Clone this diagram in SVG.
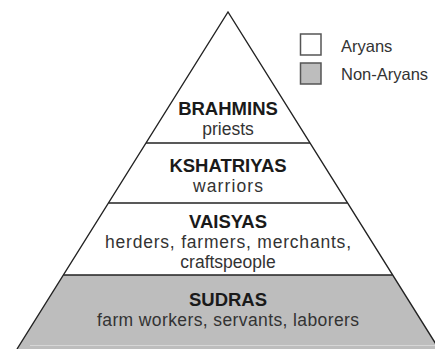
<svg xmlns="http://www.w3.org/2000/svg" width="435" height="349" viewBox="0 0 435 349">
<style>
.edge{fill:none;stroke:#222;stroke-width:1.4;stroke-linejoin:miter}
.div{stroke:#222;stroke-width:1.5}
.t{font-family:"Liberation Sans",Arial,sans-serif;fill:#1a1a1a;text-anchor:middle}
.b{font-weight:bold;font-size:18.5px}
.r{font-size:17.5px;fill:#333}
.lg{font-family:"Liberation Sans",Arial,sans-serif;font-size:16.5px;fill:#333}
.box{stroke:#555;stroke-width:1.5}
</style>
<rect width="435" height="349" fill="#fff"/>
<g id="sudras">
<polygon points="63.6,275 392.4,275 439,349 17,349" fill="#bdbdbd"/>
<line x1="30" y1="345.5" x2="435" y2="345.5" stroke="#d6d6d6" stroke-width="1"/>
<text class="t b" x="228" y="306">SUDRAS</text>
<text class="t r" x="228" y="326" textLength="262" lengthAdjust="spacing">farm workers, servants, laborers</text>
</g>
<g id="vaisyas">
<text class="t b" x="228" y="228">VAISYAS</text>
<text class="t r" x="228" y="248" textLength="246" lengthAdjust="spacing">herders, farmers, merchants,</text>
<text class="t r" x="228" y="268">craftspeople</text>
</g>
<g id="kshatriyas">
<text class="t b" x="228" y="172">KSHATRIYAS</text>
<text class="t r" x="228" y="192" textLength="70" lengthAdjust="spacing">warriors</text>
</g>
<g id="brahmins">
<text class="t b" x="228" y="115">BRAHMINS</text>
<text class="t r" x="228" y="135">priests</text>
</g>
<g id="connectors">
<polyline class="edge" points="17,349 228,12 439,349"/>
<line class="div" x1="146.1" y1="143" x2="309.9" y2="143"/>
<line class="div" x1="108.6" y1="203" x2="347.4" y2="203"/>
<line class="div" x1="63.6" y1="275" x2="392.4" y2="275"/>
</g>
<g id="legend">
<rect class="box" x="300.5" y="34" width="20.5" height="21" fill="#fff"/>
<rect class="box" x="300.5" y="63" width="20.5" height="21" fill="#bdbdbd"/>
<text class="lg" x="341" y="52">Aryans</text>
<text class="lg" x="341" y="80">Non-Aryans</text>
</g>
</svg>
